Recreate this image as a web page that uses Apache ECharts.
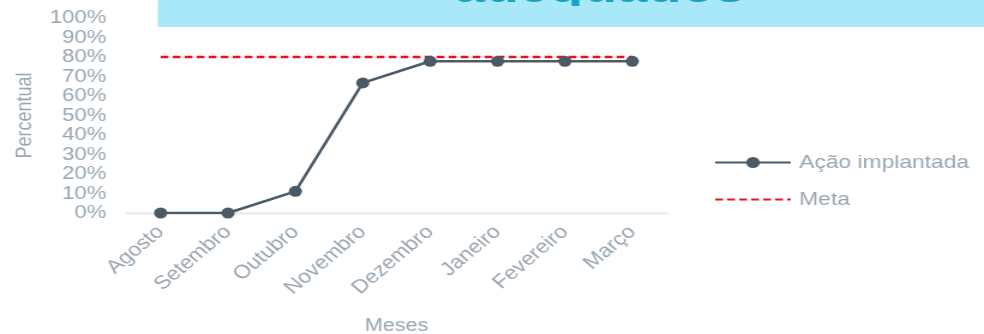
<!DOCTYPE html>
<html>
<head>
<meta charset="utf-8">
<script src="https://cdn.jsdelivr.net/npm/echarts@6/dist/echarts.min.js"></script>
<style>
  html, body { margin: 0; padding: 0; background: #ffffff; overflow: hidden; }
  #wrap { width: 984px; height: 334px; overflow: hidden; }
  /* the chart is drawn at 820px and widened to fill the 984px slide area */
  #chart { width: 820px; height: 334px; transform: scaleX(1.2); transform-origin: 0 0; }
</style>
</head>
<body>
<div id="wrap"><div id="chart"></div></div>
<script>
const months = ['Agosto', 'Setembro', 'Outubro', 'Novembro', 'Dezembro', 'Janeiro', 'Fevereiro', 'Março'];
const implantada = [0, 0, 11.1, 66.7, 77.8, 77.8, 77.8, 77.8];
const meta = [80, 80, 80, 80, 80, 80, 80, 80];
const yTicks = { min: 0, max: 100, interval: 10 };
const bannerTitle = 'adequados';

const labelColor = '#98a7b2';
const bannerColor = '#a9e8f9';
const chart = echarts.init(document.getElementById('chart'), null, { renderer: 'canvas' });

chart.setOption({
  animation: false,
  backgroundColor: '#ffffff',
  textStyle: { fontFamily: 'Liberation Sans, Arial, sans-serif' },
  graphic: [
    {
      type: 'rect',
      shape: { x: 131.7, y: 0, width: 700, height: 27 },
      style: { fill: bannerColor },
      z: 0
    },
    {
      // title line running off the top edge of the slide
      type: 'text',
      style: {
        x: 500, y: -10.5,
        text: bannerTitle,
        fill: '#17a2c5',
        font: 'bold 46px "Liberation Sans", Arial, sans-serif',
        textAlign: 'center',
        textVerticalAlign: 'middle'
      },
      z: 1
    },
    {
      // lower band of the banner sits over the title line
      type: 'rect',
      shape: { x: 131.7, y: 6, width: 700, height: 21 },
      style: { fill: bannerColor },
      z: 2
    }
  ],
  grid: { left: 105.8, right: 265, top: 18, bottom: 121, containLabel: false, outerBoundsMode: 'none' },
  legend: {
    orient: 'vertical',
    left: 590,
    top: 148,
    itemWidth: 63,
    itemHeight: 14,
    itemGap: 18,
    textStyle: { color: labelColor, fontSize: 19, lineHeight: 18, padding: [0, 0, 0, 2] },
    data: [
      { name: 'Ação implantada' },
      { name: 'Meta', itemStyle: { color: 'transparent', borderWidth: 0 } }
    ]
  },
  xAxis: {
    type: 'category',
    data: months,
    boundaryGap: true,
    axisLine: { show: true, lineStyle: { color: '#eceef1', width: 3 } },
    axisTick: { show: false },
    axisLabel: { rotate: 45, color: labelColor, fontSize: 19, margin: 16, interval: 0, hideOverlap: false },
    name: 'Meses',
    nameLocation: 'middle',
    nameGap: 104,
    nameTextStyle: { color: labelColor, fontSize: 18 }
  },
  yAxis: {
    type: 'value',
    min: yTicks.min,
    max: yTicks.max,
    interval: yTicks.interval,
    axisLine: { show: false },
    axisTick: { show: false },
    splitLine: { show: false },
    axisLabel: {
      formatter: '{value}%', color: labelColor, fontSize: 18.5, margin: 17,
      showMinLabel: true, showMaxLabel: true, hideOverlap: false
    },
    name: 'Percentual',
    nameLocation: 'middle',
    nameRotate: 90,
    nameGap: 76,
    nameTextStyle: { color: labelColor, fontSize: 18 }
  },
  series: [
    {
      name: 'Ação implantada',
      type: 'line',
      data: implantada,
      color: '#4a5a66',
      symbol: 'circle',
      symbolSize: 11,
      lineStyle: { color: '#4a5a66', width: 2.5 },
      itemStyle: { color: '#4a5a66' },
      z: 3
    },
    {
      name: 'Meta',
      type: 'line',
      data: meta,
      color: '#e3141c',
      symbol: 'none',
      lineStyle: { color: '#e3141c', width: 2.5, type: [6.5, 3.5] },
      z: 2
    }
  ]
});
</script>
</body>
</html>
